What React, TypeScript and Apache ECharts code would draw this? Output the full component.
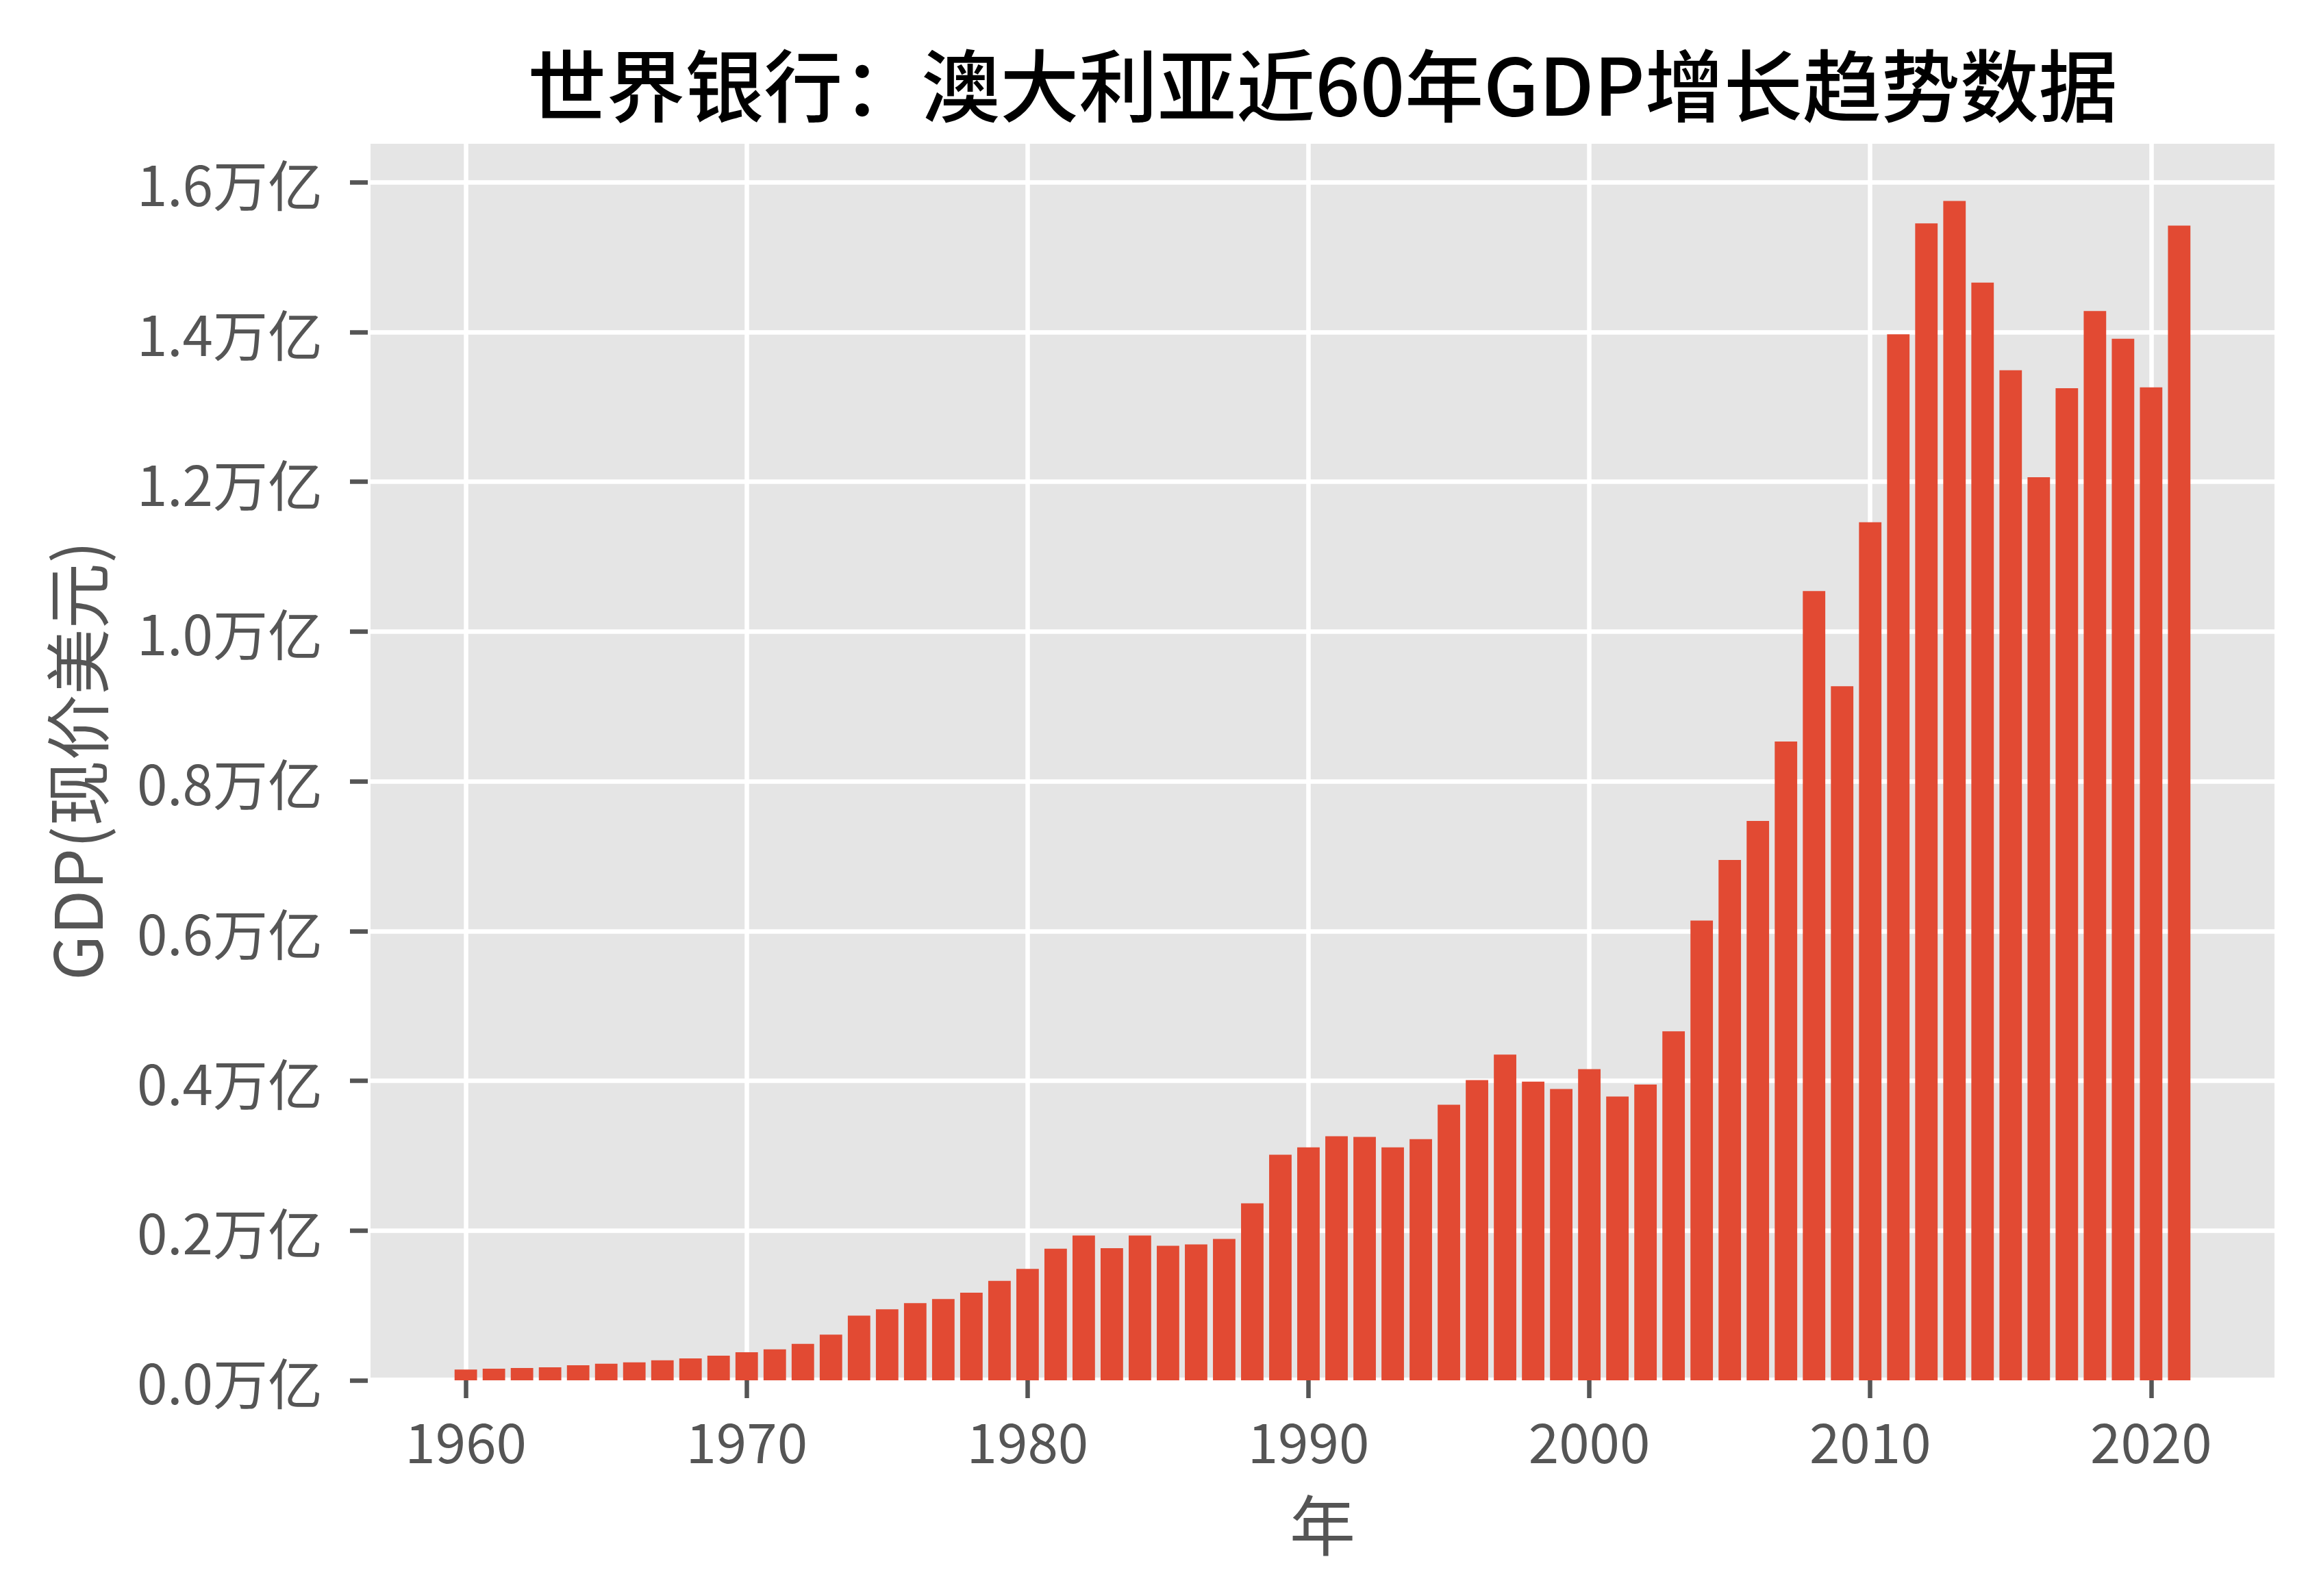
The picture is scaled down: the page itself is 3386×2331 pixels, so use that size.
import React, { useEffect, useRef } from "react";
import * as echarts from "echarts";

const years = [
  1960, 1961, 1962, 1963, 1964, 1965, 1966, 1967, 1968, 1969,
  1970, 1971, 1972, 1973, 1974, 1975, 1976, 1977, 1978, 1979,
  1980, 1981, 1982, 1983, 1984, 1985, 1986, 1987, 1988, 1989,
  1990, 1991, 1992, 1993, 1994, 1995, 1996, 1997, 1998, 1999,
  2000, 2001, 2002, 2003, 2004, 2005, 2006, 2007, 2008, 2009,
  2010, 2011, 2012, 2013, 2014, 2015, 2016, 2017, 2018, 2019,
  2020, 2021,
];

// GDP in 万亿 (trillion) current US$
const gdp = [
  0.0143, 0.0156, 0.0165, 0.0174, 0.0202, 0.0221, 0.024, 0.0267, 0.0292, 0.033,
  0.0376, 0.0414, 0.0488, 0.061, 0.0865, 0.0949, 0.103, 0.1085, 0.117, 0.1327,
  0.1487, 0.1758, 0.1935, 0.1765, 0.1935, 0.1797, 0.1814, 0.1889, 0.2363, 0.3013,
  0.311, 0.326, 0.325, 0.311, 0.322, 0.368, 0.401, 0.435, 0.399, 0.389,
  0.4155, 0.379, 0.395, 0.466, 0.614, 0.695, 0.747, 0.853, 1.054, 0.927,
  1.146, 1.397, 1.545, 1.575, 1.466, 1.349, 1.206, 1.325, 1.428, 1.391,
  1.326, 1.542,
];

const xTicks = [1960, 1970, 1980, 1990, 2000, 2010, 2020];
const yTicks = [0, 0.2, 0.4, 0.6, 0.8, 1.0, 1.2, 1.4, 1.6];

const titleText = "世界银行：澳大利亚近60年GDP增长趋势数据";
const xName = "年";
const yName = "GDP(现价美元)";

const W = 3386;
const H = 2331;
const FONT = "'Noto Sans CJK SC', 'Noto Sans', sans-serif";

export default function App() {
  const ref = useRef<HTMLDivElement>(null);

  useEffect(() => {
    document.body.style.margin = "0";
    if (!ref.current) return;
    const chart = echarts.init(ref.current, null, { renderer: "svg", width: W, height: H });

    const gridLeft = 537;
    const gridRight = W - 3325;
    const gridTop = 206;
    const gridBottom = H - 2016;
    const xMin = 1956.51;
    const xMax = 2024.49;
    const plotW = W - gridLeft - gridRight;
    const barW = (0.8 * plotW) / (xMax - xMin);
    const plotCx = gridLeft + plotW / 2;
    const plotCy = gridTop + (H - gridTop - gridBottom) / 2;

    chart.setOption({
      animation: false,
      backgroundColor: "#ffffff",
      grid: {
        left: gridLeft,
        right: gridRight,
        top: gridTop,
        bottom: gridBottom,
        show: true,
        backgroundColor: "#E5E5E5",
        borderColor: "#ffffff",
        borderWidth: 8,
        containLabel: false,
      },
      xAxis: {
        type: "value",
        min: xMin,
        max: xMax,
        splitNumber: 7,
        axisLine: { show: false },
        axisTick: {
          show: true,
          customValues: xTicks,
          length: 26,
          lineStyle: { color: "#555555", width: 6.5 },
        },
        axisLabel: {
          customValues: xTicks,
          margin: 46,
          fontSize: 80,
          lineHeight: 80,
          fontFamily: FONT,
          color: "#555555",
          formatter: (v: number) => String(Math.round(v)),
        },
        splitLine: { show: true, lineStyle: { color: "#ffffff", width: 6.5 } },
      },
      yAxis: {
        type: "value",
        min: 0,
        max: 1.655,
        splitNumber: 8,
        axisLine: { show: false },
        axisTick: {
          show: true,
          customValues: yTicks,
          length: 26,
          lineStyle: { color: "#555555", width: 6.5 },
        },
        axisLabel: {
          customValues: yTicks,
          margin: 66,
          fontSize: 80,
          fontFamily: FONT,
          color: "#555555",
          formatter: (v: number) => v.toFixed(1) + "万亿",
        },
        splitLine: { show: true, lineStyle: { color: "#ffffff", width: 6.5 } },
      },
      series: [
        {
          type: "bar",
          data: years.map((y, i) => [y, gdp[i]]),
          barWidth: barW,
          itemStyle: { color: "#E24A33" },
        },
      ],
      graphic: [
        {
          type: "text",
          x: plotCx,
          y: 119,
          style: {
            text: titleText,
            font: `500 115px ${FONT}`,
            fill: "#000000",
            textAlign: "center",
            textVerticalAlign: "middle",
          },
        },
        {
          type: "text",
          x: plotCx,
          y: 2222,
          style: {
            text: xName,
            font: `96px ${FONT}`,
            fill: "#555555",
            textAlign: "center",
            textVerticalAlign: "middle",
          },
        },
        {
          type: "text",
          x: 108,
          y: plotCy,
          rotation: Math.PI / 2,
          style: {
            text: yName,
            font: `96px ${FONT}`,
            fill: "#555555",
            textAlign: "center",
            textVerticalAlign: "middle",
          },
        },
      ],
    });

    return () => chart.dispose();
  }, []);

  return <div ref={ref} style={{ width: W, height: H }} />;
}
